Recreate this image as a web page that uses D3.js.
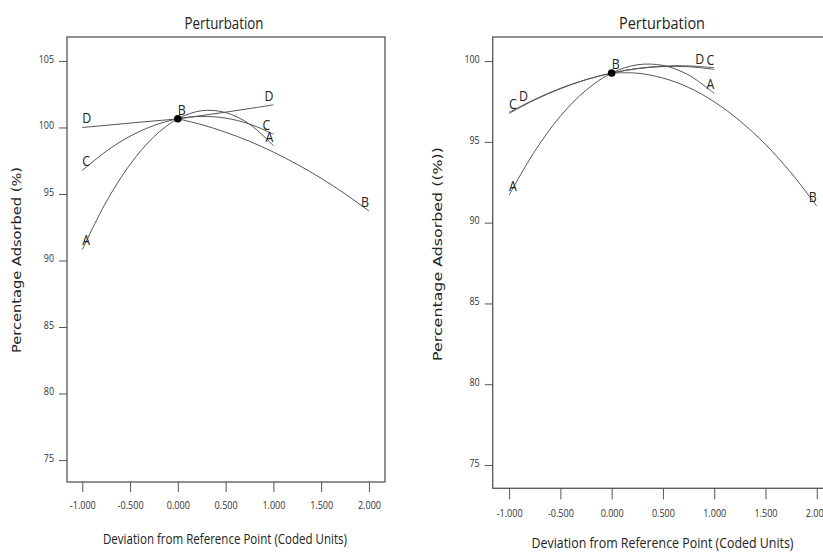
<!DOCTYPE html>
<html>
<head>
<meta charset="utf-8">
<script src="https://cdn.jsdelivr.net/npm/d3@7"></script>
<style>
  body { margin: 0; background: #fff; }
  svg { display: block; }
  .tick text { font-family: "Open Sans", sans-serif; font-size: 10.5px; fill: #333; }
  .lbl { font-family: "Open Sans", sans-serif; font-size: 14.5px; fill: #222; }
  .title, .xtitle { font-family: "Open Sans", sans-serif; fill: #222; }
  .ytitle { font-family: "DejaVu Sans", Verdana, sans-serif; font-size: 12.5px; fill: #222; }
</style>
</head>
<body>
<div id="chart"></div>
<script>
// coded deviation positions
var xFull = [-1, -0.75, -0.5, -0.25, 0, 0.25, 0.5, 0.75, 1];
var xB = [0, 0.25, 0.5, 0.75, 1, 1.25, 1.5, 1.75, 2];
var yTicksLeft = [75, 80, 85, 90, 95, 100, 105];
var yTicksRight = [75, 80, 85, 90, 95, 100];
var xTicks = [-1, -0.5, 0, 0.5, 1, 1.5, 2];

// left plot (percentage adsorbed)
var leftRef = 100.65;
var leftA = [90.83, 94.40, 97.22, 99.31, 100.65, 101.26, 101.12, 100.25, 98.63];
var leftB = [100.65, 100.21, 99.64, 98.96, 98.15, 97.22, 96.18, 95.01, 93.72];
var leftC = [96.77, 98.21, 99.34, 100.15, 100.65, 100.83, 100.70, 100.26, 99.50];
var leftD = [100.00, 100.16, 100.33, 100.49, 100.65, 100.90, 101.15, 101.42, 101.70];

// right plot
var rightRef = 99.26;
var rightA = [91.71, 94.42, 96.59, 98.20, 99.26, 99.77, 99.73, 99.14, 98.00];
var rightB = [99.26, 99.25, 98.95, 98.37, 97.48, 96.30, 94.84, 93.08, 91.03];
var rightC = [96.76, 97.60, 98.29, 98.85, 99.26, 99.53, 99.66, 99.65, 99.49];
var rightD = [96.83, 97.63, 98.31, 98.85, 99.26, 99.54, 99.69, 99.70, 99.59];

var svg = d3.select("#chart").append("svg")
  .attr("width", 823)
  .attr("height", 553);

// plain hyphen for negatives, like the original
var loc = d3.formatLocale({decimal: ".", thousands: ",", grouping: [3], currency: ["", ""], minus: "-"});

// squeeze a text a bit, the original uses a narrow face
function narrow(sel, k) {
  sel.each(function() {
    var w = this.getComputedTextLength();
    d3.select(this).attr("textLength", w * k).attr("lengthAdjust", "spacingAndGlyphs");
  });
}

function panel(p) {
  var x = d3.scaleLinear().domain([-1.16, 2.168]).range([p.left, p.right]);
  var y = d3.scaleLinear().domain(p.yDomain).range([p.bottom, p.top]);
  var g = svg.append("g");

  // frame
  g.append("rect")
    .attr("x", p.left).attr("y", p.top)
    .attr("width", p.right - p.left).attr("height", p.bottom - p.top)
    .attr("fill", "none").attr("stroke", "#555").attr("stroke-width", 1.3);

  // axes
  var ya = g.append("g")
    .attr("transform", "translate(" + p.left + ",0)")
    .call(d3.axisLeft(y).tickValues(p.yTicks).tickSize(8).tickPadding(5).tickFormat(loc.format("d")));
  ya.select(".domain").remove();
  ya.selectAll("line").attr("stroke", "#555");
  ya.selectAll("text").attr("dy", "0.12em").call(narrow, 0.85);

  var xa = g.append("g")
    .attr("transform", "translate(0," + p.bottom + ")")
    .call(d3.axisBottom(x).tickValues(xTicks).tickSize(p.xTickLen).tickPadding(10).tickFormat(loc.format(".3f")));
  xa.select(".domain").remove();
  xa.selectAll("line").attr("stroke", "#555");
  xa.selectAll("text").call(narrow, 0.86);

  // curves
  var line = d3.line()
    .x(function(d) { return x(d[0]); })
    .y(function(d) { return y(d[1]); })
    .curve(d3.curveCatmullRom);

  p.series.forEach(function(s) {
    var pts = s.xs.map(function(v, i) { return [v, s.ys[i]]; });
    g.append("path")
      .attr("d", line(pts))
      .attr("fill", "none")
      .attr("stroke", "#555")
      .attr("stroke-width", 1);
  });

  // end labels
  p.labels.forEach(function(l) {
    var s = p.series.filter(function(d) { return d.name == l.name; })[0];
    var i = l.at == "start" ? 0 : s.xs.length - 1;
    g.append("text")
      .attr("class", "lbl")
      .attr("x", x(s.xs[i]) + (l.dx || 0))
      .attr("y", y(s.ys[i]) - 4 + (l.dy || 0))
      .attr("text-anchor", l.at == "start" ? "start" : "end")
      .text(l.name)
      .call(narrow, 0.85);
  });

  // reference point
  g.append("circle")
    .attr("cx", x(0)).attr("cy", y(p.ref))
    .attr("r", 3.8).attr("fill", "#000");

  g.append("text").attr("class", "title")
    .attr("x", p.titleX).attr("y", 29)
    .attr("text-anchor", "middle")
    .attr("font-size", 16)
    .attr("textLength", p.titleLen).attr("lengthAdjust", "spacingAndGlyphs")
    .text("Perturbation");

  g.append("text").attr("class", "xtitle")
    .attr("x", p.xTitleX).attr("y", p.xTitleY)
    .attr("text-anchor", "middle")
    .attr("font-size", 14.5)
    .attr("textLength", p.xTitleLen).attr("lengthAdjust", "spacingAndGlyphs")
    .text("Deviation from Reference Point (Coded Units)");

  g.append("text").attr("class", "ytitle")
    .attr("transform", "translate(" + p.yTitleX + "," + p.yTitleY + ") rotate(-90)")
    .attr("text-anchor", "middle")
    .attr("textLength", p.yTitleLen).attr("lengthAdjust", "spacingAndGlyphs")
    .text(p.yTitle);
}

panel({
  left: 67, right: 385, top: 37, bottom: 482,
  yDomain: [73.35, 106.8], yTicks: yTicksLeft, xTickLen: 10, ref: leftRef,
  series: [
    {name: "A", xs: xFull, ys: leftA},
    {name: "B", xs: xB, ys: leftB},
    {name: "C", xs: xFull, ys: leftC},
    {name: "D", xs: xFull, ys: leftD}
  ],
  labels: [
    {name: "A", at: "start"}, {name: "A", at: "end"},
    {name: "B", at: "start"}, {name: "B", at: "end"},
    {name: "C", at: "start"}, {name: "C", at: "end", dx: -3},
    {name: "D", at: "start"}, {name: "D", at: "end"}
  ],
  titleX: 224, titleLen: 79,
  xTitleX: 225, xTitleY: 544, xTitleLen: 244,
  yTitleX: 21, yTitleY: 260, yTitleLen: 186, yTitle: "Percentage Adsorbed (%)"
});

panel({
  left: 492.7, right: 834, top: 37, bottom: 488.3,
  yDomain: [73.56, 101.49], yTicks: yTicksRight, xTickLen: 11, ref: rightRef,
  series: [
    {name: "A", xs: xFull, ys: rightA},
    {name: "B", xs: xB, ys: rightB},
    {name: "C", xs: xFull, ys: rightC},
    {name: "D", xs: xFull, ys: rightD}
  ],
  labels: [
    {name: "A", at: "start"}, {name: "A", at: "end"},
    {name: "B", at: "start"}, {name: "B", at: "end"},
    {name: "C", at: "start"}, {name: "C", at: "end"},
    {name: "D", at: "start", dx: 10, dy: -7}, {name: "D", at: "end", dx: -10}
  ],
  titleX: 662, titleLen: 86,
  xTitleX: 662.5, xTitleY: 548, xTitleLen: 262,
  yTitleX: 442, yTitleY: 254, yTitleLen: 214, yTitle: "Percentage Adsorbed ((%))"
});
</script>
</body>
</html>
